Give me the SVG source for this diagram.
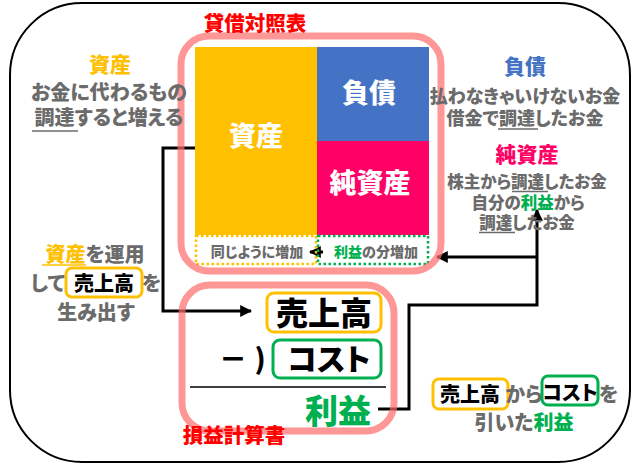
<svg xmlns="http://www.w3.org/2000/svg" width="639" height="471" viewBox="0 0 639 471">
<defs>
<marker id="ah" viewBox="0 0 10 10" refX="9" refY="5" markerWidth="4" markerHeight="4" orient="auto-start-reverse" markerUnits="strokeWidth">
<path d="M0,0 L10,5 L0,10 z" fill="#000"/>
</marker>
<style>
text{font-family:"Noto Sans CJK JP","Noto Sans",sans-serif;font-weight:900;font-feature-settings:"palt";}
.g{fill:#6b6b6b;}
.y{fill:#FFC000;}
.b{fill:#4472C4;}
.p{fill:#FF0066;}
.gr{fill:#00B050;}
.k{fill:#000;}
.w{fill:#fff;}
.r{fill:#FF0000;}
.frame{fill:none;stroke:#FF6B6B;stroke-width:7;opacity:0.7;}
.conn{fill:none;stroke:#000;stroke-width:3;}
.ul{stroke:#6b6b6b;stroke-width:1.5;}
.ybox{fill:#fff;stroke:#FFC000;stroke-width:3;}
.gbox{fill:#fff;stroke:#00B050;stroke-width:3;}
</style>
</defs>
<rect x="10" y="3" width="620" height="459" rx="72" fill="#fff" stroke="#000" stroke-width="2"/>

<g id="connectors">
<path class="conn" d="M195,148 H163 V311 H251" marker-end="url(#ah)"/>
<path class="conn" d="M378,409 H409 V305 H537 V210" marker-end="url(#ah)"/>
<path class="conn" d="M537,257 H437" marker-end="url(#ah)"/>
<path class="conn" stroke-width="2.5" d="M323,252 H310" marker-end="url(#ah)"/>
</g>

<g id="bs-assets">
<rect x="195" y="47" width="122" height="188" fill="#FFC000"/>
<text x="256" y="146" font-size="27" text-anchor="middle" class="w">資産</text>
</g>
<g id="bs-liabilities">
<rect x="317" y="47" width="112" height="94" fill="#4472C4"/>
<text x="369" y="103" font-size="27" text-anchor="middle" class="w">負債</text>
</g>
<g id="bs-equity">
<rect x="317" y="141" width="112" height="94" fill="#FF0066"/>
<text x="370" y="193" font-size="27" text-anchor="middle" class="w">純資産</text>
</g>
<g id="bs-same-increase">
<rect x="196" y="236" width="120" height="28" fill="none" stroke="#FFC000" stroke-width="2.5" stroke-dasharray="2.5,2.5"/>
<text x="257" y="257" font-size="14" text-anchor="middle" class="g">同じように増加</text>
</g>
<g id="bs-profit-increase">
<rect x="318" y="236" width="110" height="28" fill="none" stroke="#00B050" stroke-width="2.5" stroke-dasharray="2.5,2.5"/>
<text x="376" y="257" font-size="14" text-anchor="middle" class="g"><tspan class="gr">利益</tspan>の分増加</text>
</g>
<g id="balance-sheet">
<rect class="frame" x="181" y="36" width="260" height="235" rx="28"/>
<text x="255" y="31" font-size="20.5" text-anchor="middle" class="r">貸借対照表</text>
</g>

<g id="pl-sales">
<rect class="ybox" x="267" y="293" width="114" height="39" rx="7"/>
<text x="324" y="325" font-size="32" text-anchor="middle" class="k">売上高</text>
</g>
<g id="pl-cost">
<text x="233" y="370" font-size="28" text-anchor="middle" class="k">－</text>
<text x="260" y="369" font-size="28" text-anchor="middle" class="k">)</text>
<rect class="gbox" x="273" y="340" width="108" height="38" rx="7"/>
<text x="329" y="370" font-size="30" text-anchor="middle" class="k">コスト</text>
</g>
<g id="pl-profit">
<line x1="190" y1="387" x2="386" y2="387" stroke="#000" stroke-width="1.5"/>
<text x="338" y="423" font-size="33" text-anchor="middle" class="gr">利益</text>
</g>
<g id="income-statement">
<rect class="frame" x="182" y="285" width="212" height="146" rx="28"/>
<text x="234" y="443" font-size="20.5" text-anchor="middle" class="r">損益計算書</text>
</g>

<g id="note-assets">
<text x="110" y="72" font-size="21" text-anchor="middle" class="y">資産</text>
<text x="109" y="100" font-size="20" text-anchor="middle" class="g">お金に代わるもの</text>
<text x="109" y="125" font-size="20" text-anchor="middle" class="g">調達すると増える</text>
<line class="ul" x1="32" y1="131" x2="78" y2="131"/>
</g>

<g id="note-liabilities">
<text x="525" y="74" font-size="21" text-anchor="middle" class="b">負債</text>
<text x="525" y="103" font-size="18" text-anchor="middle" class="g">払わなきゃいけないお金</text>
<text x="525" y="125" font-size="18" text-anchor="middle" class="g">借金で調達したお金</text>
<line class="ul" x1="498" y1="129" x2="538" y2="129"/>
</g>

<g id="note-equity">
<text x="527" y="162" font-size="21" text-anchor="middle" class="p">純資産</text>
<text x="527" y="188" font-size="16.5" text-anchor="middle" class="g">株主から調達したお金</text>
<line class="ul" x1="512" y1="191.5" x2="548" y2="191.5"/>
<text x="528" y="208.5" font-size="16.5" text-anchor="middle" class="g">自分の<tspan class="gr">利益</tspan>から</text>
<text x="527" y="229" font-size="16.5" text-anchor="middle" class="g">調達したお金</text>
<line class="ul" x1="479" y1="232.5" x2="515" y2="232.5"/>
</g>

<g id="note-sales">
<text x="95" y="262" font-size="20" text-anchor="middle" class="g"><tspan class="y">資産</tspan>を運用</text>
<line x1="42" y1="265" x2="86" y2="265" stroke="#FFC000" stroke-width="1.5"/>
<text x="65" y="291" font-size="20" text-anchor="end" class="g">して</text>
<rect class="ybox" x="66" y="268" width="76" height="29" rx="6"/>
<text x="104" y="291" font-size="20" text-anchor="middle" class="k">売上高</text>
<text x="142" y="291" font-size="20" class="g">を</text>
<text x="96" y="320" font-size="20" text-anchor="middle" class="g">生み出す</text>
</g>

<g id="note-profit">
<rect class="ybox" x="433" y="379" width="75" height="30" rx="6"/>
<text x="470" y="402" font-size="20" text-anchor="middle" class="k">売上高</text>
<text x="524" y="402" font-size="20" text-anchor="middle" class="g">から</text>
<rect class="gbox" x="542" y="376" width="56" height="29" rx="6"/>
<text x="570" y="400" font-size="20" text-anchor="middle" class="k">コスト</text>
<text x="599" y="402" font-size="20" class="g">を</text>
<text x="524" y="430" font-size="20" text-anchor="middle" class="g">引いた<tspan class="gr">利益</tspan></text>
</g>
</svg>
